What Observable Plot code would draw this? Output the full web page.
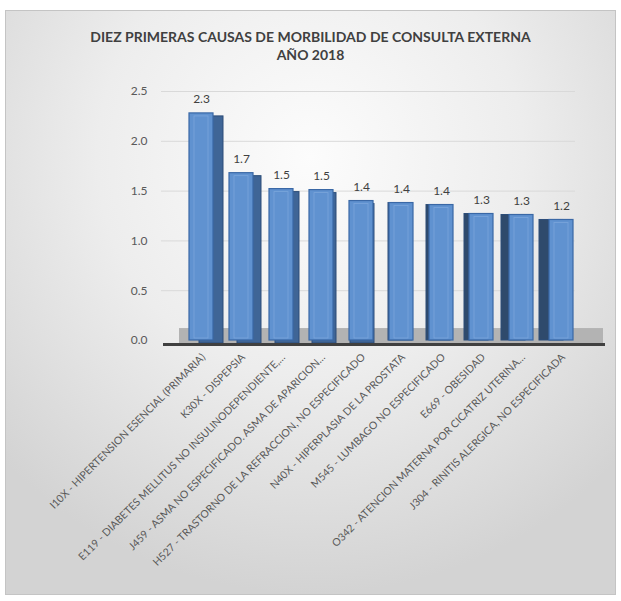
<!DOCTYPE html>
<html><head><meta charset="utf-8">
<script src="https://cdn.jsdelivr.net/npm/d3@7"></script>
<script src="https://cdn.jsdelivr.net/npm/@observablehq/plot@0.6"></script>
<style>
body{margin:0;background:#fff;}
#card{position:absolute;left:5px;top:10px;width:611px;height:585px;box-sizing:border-box;border:1px solid #c4c4c4;
background:radial-gradient(ellipse 70% 75% at 50% 25%, #fcfcfc 0%, #ededed 50%, #d3d3d3 100%);overflow:hidden;}
#title{box-sizing:border-box;height:59px;padding-top:17px;text-align:center;font-family:Lato,"Open Sans",sans-serif;font-weight:bold;font-size:14px;line-height:18px;color:#404040;}
#chart svg{display:block;background:transparent;}
</style>
</head><body>
<div id="card">
  <div id="title">DIEZ PRIMERAS CAUSAS DE MORBILIDAD DE CONSULTA EXTERNA<br>AÑO 2018</div>
  <div id="chart"></div>
</div>
<script>
const causes = [
  "I10X - HIPERTENSION ESENCIAL (PRIMARIA)",
  "K30X - DISPEPSIA",
  "E119 - DIABETES MELLITUS NO INSULINODEPENDIENTE,…",
  "J459 - ASMA NO ESPECIFICADO. ASMA DE APARICION…",
  "H527 - TRASTORNO DE LA REFRACCION, NO ESPECIFICADO",
  "N40X - HIPERPLASIA DE LA PROSTATA",
  "M545 - LUMBAGO NO ESPECIFICADO",
  "E669 - OBESIDAD",
  "O342 - ATENCION MATERNA POR CICATRIZ UTERINA…",
  "J304 - RINITIS ALERGICA, NO ESPECIFICADA"
];
const values = [2.28, 1.68, 1.52, 1.51, 1.40, 1.38, 1.36, 1.27, 1.26, 1.21];
const yTicks = [0, 0.5, 1.0, 1.5, 2.0, 2.5];

const data = causes.map((c, i) => ({cause: c, value: values[i], i}));

// 3D side faces (perspective: right side for left bars, left side for right bars)
const sideMarks = data.map(d => {
  const s = Math.round((4.5 - d.i) * 2.2);
  if (Math.abs(s) < 1) return null;
  return Plot.barY([d], {
    x: "cause", y: "value", dx: s, dy: s > 0 ? 3 : 0,
    fill: s > 0 ? "#3f6596" : "#2f4a6c", stroke: "#2c4d78", strokeWidth: 1
  });
}).filter(Boolean);

const plot = Plot.plot({
  width: 609,
  height: 524,
  marginTop: 21,
  marginBottom: 254,
  marginLeft: 163,
  marginRight: 22,
  style: {color: "#595959", fontFamily: "Lato, 'Open Sans', sans-serif", background: "transparent"},
  x: {domain: causes, padding: 0.39, label: null},
  y: {domain: [0, 2.5], label: null},
  marks: [
    Plot.ruleY(yTicks.slice(1), {stroke: "#d9d9d9", strokeWidth: 1, insetLeft: -8, insetRight: 18}),
    Plot.rectY([0], {y1: -0.03, y2: 0.12, fill: "#b3b3b3", insetLeft: 10, insetRight: -10}),
    ...sideMarks,
    Plot.barY(data, {x: "cause", y: "value", fill: "#6092d0", stroke: "#3a68a6", strokeWidth: 1.2}),
    Plot.barY(data, {x: "cause", y: "value", fill: "none", stroke: "#86aee0", strokeWidth: 0.8, insetLeft: 5, insetRight: 5, insetTop: 3, insetBottom: 2, strokeOpacity: 0.7}),
    Plot.ruleY([-0.04], {stroke: "#404040", strokeWidth: 3, insetLeft: -6, insetRight: -12}),
    Plot.text(data, {x: "cause", y: "value", text: d => d.value.toFixed(1), dy: -14, fontSize: 12, fill: "#404040"}),
    Plot.axisY({ticks: yTicks, tickFormat: d => d.toFixed(1), tickSize: 0, tickPadding: 22, fontSize: 12, fill: "#595959"}),
    Plot.axisX({tickSize: 0, tickPadding: 15, tickRotate: -45, fontSize: 10.5, fill: "#595959", dx: 2})
  ]
});
document.getElementById("chart").appendChild(plot);
</script>
</body></html>
